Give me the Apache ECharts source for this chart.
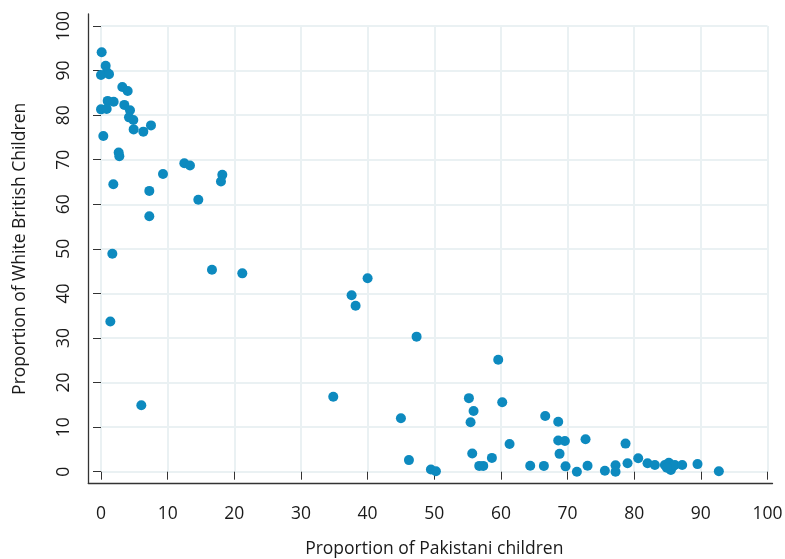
<!DOCTYPE html>
<html>
<head>
<meta charset="utf-8">
<script src="https://cdn.jsdelivr.net/npm/echarts@6/dist/echarts.min.js"></script>
<style>html,body{margin:0;padding:0;background:#fff;}#c{width:785px;height:559px;}</style>
</head>
<body>
<div id="c"></div>
<script>
var xTicks = [0,10,20,30,40,50,60,70,80,90,100];
var yTicks = [0,10,20,30,40,50,60,70,80,90,100];
var xTitle = 'Proportion of Pakistani children';
var yTitle = 'Proportion of White British Children';
var pakistani = [0.1,0.7,0.9,0.0,1.2,3.2,4.0,1.0,1.9,0.0,0.85,3.5,4.35,4.2,4.85,4.9,6.35,7.5,0.35,2.65,2.75,1.85,7.25,9.3,12.5,13.35,18.2,18.0,14.6,7.25,1.7,16.65,21.2,1.4,6.05,40.0,37.6,38.2,47.35,59.6,34.85,55.2,60.2,55.9,55.45,45.0,61.3,55.7,58.65,46.2,56.75,57.35,49.5,50.25,66.65,68.6,68.6,69.6,72.7,68.8,64.4,66.45,69.7,71.4,73.0,75.6,77.2,77.2,78.7,79.0,80.6,82.0,83.1,84.6,85.2,85.5,85.8,86.1,87.2,84.9,89.5,92.7];
var whiteBritish = [94.1,91.1,89.6,89.0,89.2,86.3,85.4,83.2,83.0,81.3,81.4,82.3,81.1,79.5,78.9,76.8,76.3,77.7,75.3,71.6,70.8,64.5,63.0,66.8,69.2,68.7,66.6,65.1,61.0,57.3,48.9,45.3,44.5,33.7,14.9,43.4,39.6,37.25,30.3,25.1,16.8,16.5,15.6,13.6,11.1,12.0,6.2,4.1,3.1,2.6,1.3,1.3,0.5,0.1,12.5,11.2,7.0,6.9,7.3,4.0,1.35,1.3,1.2,0.0,1.35,0.2,1.45,0.0,6.3,1.9,3.0,1.9,1.5,1.5,2.0,0.4,1.2,1.5,1.5,0.9,1.7,0.1];

var pts = pakistani.map(function(v,i){return [v, whiteBritish[i]];});
var axisColor = '#333333';
var gridColor = '#eaf1f3';
var textColor = '#1a1a1a';
var font = 'Open Sans';
var fs = 17.5;

var chart = echarts.init(document.getElementById('c'), null, {renderer:'canvas'});
chart.setOption({
  backgroundColor:'#ffffff',
  animation:false,
  grid:[
    {left:101, right:17.5, top:26, bottom:87.3, containLabel:false, outerBoundsMode:'none'},
    {left:88.3, right:12.5, top:14, bottom:75.7, containLabel:false, outerBoundsMode:'none'}
  ],
  xAxis:[
    {gridIndex:0, type:'value', min:0, max:100, interval:10, offset:11.5,
     name:xTitle, nameLocation:'middle', nameGap:57,
     nameTextStyle:{fontFamily:font, fontSize:fs, color:textColor},
     axisLine:{show:false},
     axisTick:{show:true, length:8, lineStyle:{color:axisColor}},
     axisLabel:{fontFamily:font, fontSize:fs, color:textColor, margin:22, formatter:function(v){return xTicks.indexOf(v)>=0?String(v):'';}},
     splitLine:{show:true, lineStyle:{color:gridColor, width:2}}},
    {gridIndex:1, type:'value', min:0, max:1,
     axisLine:{show:true, lineStyle:{color:axisColor, width:1.3}},
     axisTick:{show:false}, axisLabel:{show:false}, splitLine:{show:false}}
  ],
  yAxis:[
    {gridIndex:0, type:'value', min:0, max:100, interval:10, offset:12.7,
     name:yTitle, nameLocation:'middle', nameGap:59, nameRotate:90,
     nameTextStyle:{fontFamily:font, fontSize:fs, color:textColor},
     axisLine:{show:false},
     axisTick:{show:true, length:8, lineStyle:{color:axisColor}},
     axisLabel:{fontFamily:font, fontSize:fs, color:textColor, rotate:90, margin:15, formatter:function(v){return yTicks.indexOf(v)>=0?String(v):'';}},
     splitLine:{show:true, lineStyle:{color:gridColor, width:2}}},
    {gridIndex:1, type:'value', min:0, max:1,
     axisLine:{show:true, lineStyle:{color:axisColor, width:1.3}},
     axisTick:{show:false}, axisLabel:{show:false}, splitLine:{show:false}}
  ],
  series:[{
    type:'scatter', xAxisIndex:0, yAxisIndex:0,
    data:pts, symbol:'circle', symbolSize:10,
    itemStyle:{color:'#0d8abf', opacity:1}
  }]
});
</script>
</body>
</html>
